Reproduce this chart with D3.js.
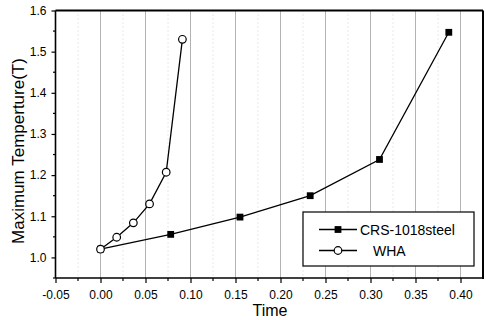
<!DOCTYPE html>
<html>
<head>
<meta charset="utf-8">
<script src="https://cdn.jsdelivr.net/npm/d3@7"></script>
<style>
html,body{margin:0;padding:0;background:#fff;}
svg{display:block;font-family:"Liberation Sans",Arial,sans-serif;}
</style>
</head>
<body>
<svg id="chart" width="486" height="320"></svg>
<script>
const crsTime = [0, 0.078, 0.155, 0.233, 0.31, 0.387];
const crsTemp = [1.02, 1.056, 1.098, 1.150, 1.238, 1.547];
const whaTime = [0, 0.018, 0.0365, 0.0545, 0.073, 0.091];
const whaTemp = [1.02, 1.049, 1.084, 1.130, 1.207, 1.530];
const xTicks = [-0.05, 0, 0.05, 0.10, 0.15, 0.20, 0.25, 0.30, 0.35, 0.40];
const yTicks = [1.0, 1.1, 1.2, 1.3, 1.4, 1.5, 1.6];
const seriesNames = ["CRS-1018steel", "WHA"];

const svg = d3.select("#chart");
const L = 55.5, R = 483, T = 10.5, B = 278;
const x = d3.scaleLinear().domain([-0.05, 0.425]).range([L, R]);
const y = d3.scaleLinear().domain([0.95, 1.6]).range([B, T]);
const fmtX = d => d3.format(".2f")(d).replace("\u2212", "-");

// grid lines (vertical)
const minorX = d3.range(-0.025, 0.42, 0.05);
svg.append("g").selectAll("line").data(minorX).join("line")
  .attr("x1", d => x(d)).attr("x2", d => x(d)).attr("y1", T).attr("y2", B)
  .attr("stroke", "#d0d0d0").attr("stroke-width", 1).attr("stroke-dasharray", "1,3");
svg.append("g").selectAll("line").data(xTicks.filter(d => d >= 0)).join("line")
  .attr("x1", d => x(d)).attr("x2", d => x(d)).attr("y1", T).attr("y2", B)
  .attr("stroke", "#666").attr("stroke-width", 1).attr("stroke-dasharray", "1,1");

// axes
const xAxis = d3.axisBottom(x).tickValues(xTicks).tickFormat(fmtX).tickSize(5).tickPadding(7);
const gx = svg.append("g").attr("transform", `translate(0,${B})`).call(xAxis);
const yAxis = d3.axisLeft(y).tickValues(yTicks).tickFormat(d3.format(".1f")).tickSize(4).tickPadding(5);
const gy = svg.append("g").attr("transform", `translate(${L},0)`).call(yAxis);
[gx, gy].forEach(g => {
  g.select(".domain").remove();
  g.selectAll("text").attr("font-size", 12).attr("fill", "#000").attr("font-family", "Liberation Sans, Arial, sans-serif");
  g.selectAll("line").attr("stroke", "#000").attr("stroke-width", 1.2);
});
// minor ticks
svg.append("g").selectAll("line").data(minorX).join("line")
  .attr("x1", d => x(d)).attr("x2", d => x(d)).attr("y1", B).attr("y2", B + 3)
  .attr("stroke", "#000").attr("stroke-width", 1.2);
const minorY = d3.range(1.05, 1.6, 0.1).concat([0.95]);
svg.append("g").selectAll("line").data(minorY).join("line")
  .attr("x1", L - 2.5).attr("x2", L).attr("y1", d => y(d)).attr("y2", d => y(d))
  .attr("stroke", "#000").attr("stroke-width", 1.2);

// frame
svg.append("line").attr("x1", L).attr("x2", L).attr("y1", T).attr("y2", B).attr("stroke", "#000").attr("stroke-width", 1.6);
svg.append("line").attr("x1", L).attr("x2", R).attr("y1", B).attr("y2", B).attr("stroke", "#000").attr("stroke-width", 1.6);
svg.append("line").attr("x1", L).attr("x2", R).attr("y1", T).attr("y2", T).attr("stroke", "#000").attr("stroke-width", 2);
svg.append("line").attr("x1", R).attr("x2", R).attr("y1", T).attr("y2", B + 1).attr("stroke", "#000").attr("stroke-width", 2);

// lines
const crs = crsTime.map((t, i) => [t, crsTemp[i]]);
const wha = whaTime.map((t, i) => [t, whaTemp[i]]);
const line = d3.line().x(d => x(d[0])).y(d => y(d[1]));
svg.append("path").attr("d", line(crs)).attr("fill", "none").attr("stroke", "#000").attr("stroke-width", 1.3);
svg.append("path").attr("d", line(wha)).attr("fill", "none").attr("stroke", "#000").attr("stroke-width", 1.3);
svg.append("g").selectAll("rect").data(crs).join("rect")
  .attr("x", d => x(d[0]) - 3.4).attr("y", d => y(d[1]) - 3.4).attr("width", 6.8).attr("height", 6.8).attr("fill", "#000");
svg.append("g").selectAll("circle").data(wha).join("circle")
  .attr("cx", d => x(d[0])).attr("cy", d => y(d[1])).attr("r", 3.8)
  .attr("fill", "#fff").attr("stroke", "#000").attr("stroke-width", 1.2);

// legend
const lg = svg.append("g");
lg.append("rect").attr("x", 303).attr("y", 212).attr("width", 171).attr("height", 54)
  .attr("fill", "#fff").attr("stroke", "#000").attr("stroke-width", 1.2);
const rows = [229.5, 250.5];
seriesNames.forEach((name, i) => {
  lg.append("line").attr("x1", 319).attr("x2", 357).attr("y1", rows[i]).attr("y2", rows[i]).attr("stroke", "#000").attr("stroke-width", 1.3);
  if (i === 0) lg.append("rect").attr("x", 338 - 3.4).attr("y", rows[i] - 3.4).attr("width", 6.8).attr("height", 6.8).attr("fill", "#000");
  else lg.append("circle").attr("cx", 338).attr("cy", rows[i]).attr("r", 3.8).attr("fill", "#fff").attr("stroke", "#000").attr("stroke-width", 1.2);
  lg.append("text").attr("x", i === 0 ? 360 : 373).attr("y", rows[i] + 5).attr("font-size", 14).text(name);
});

// axis titles
svg.append("text").attr("x", 270).attr("y", 316).attr("text-anchor", "middle").attr("font-size", 16).text("Time");
svg.append("text").attr("transform", "translate(24,151) rotate(-90)").attr("text-anchor", "middle").attr("font-size", 17).text("Maximum Temperture(T)");
</script>
</body>
</html>
